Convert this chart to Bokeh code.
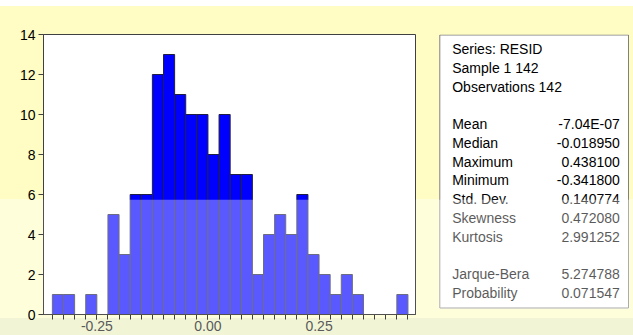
from bokeh.plotting import figure
from bokeh.models import FixedTicker, NumeralTickFormatter, BoxAnnotation, Range1d, Spacer
from bokeh.layouts import row, column
from bokeh.core.properties import value
from bokeh.embed import file_html
from bokeh.resources import INLINE

# ---- data ----
bin_edges = [-0.350, -0.325, -0.300, -0.275, -0.250, -0.225, -0.200, -0.175,
             -0.150, -0.125, -0.100, -0.075, -0.050, -0.025, 0.000, 0.025,
             0.050, 0.075, 0.100, 0.125, 0.150, 0.175, 0.200, 0.225,
             0.250, 0.275, 0.300, 0.325, 0.350, 0.375, 0.400, 0.425, 0.450]
counts = [1, 1, 0, 1, 0, 5, 3, 6, 6, 12, 13, 11, 10, 10, 8, 10,
          7, 7, 2, 4, 5, 4, 6, 3, 2, 1, 2, 1, 0, 0, 0, 1]
x_tick_values = [-0.25, 0.0, 0.25]
y_tick_values = [0, 2, 4, 6, 8, 10, 12, 14]

header_lines = ["Series: RESID", "Sample 1 142", "Observations 142"]
stat_names = ["Mean", "Median", "Maximum", "Minimum", "Std. Dev.", "Skewness", "Kurtosis"]
stat_values = ["-7.04E-07", "-0.018950", "0.438100", "-0.341800", "0.140774", "0.472080", "2.991252"]
test_names = ["Jarque-Bera", "Probability"]
test_values = ["5.274788", "0.071547"]

FONT = "Liberation Sans"
YELLOW = "#FFFDC4"
PALE = "#FFFEDB"
GREENISH = "#F1F5D6"
WASH_ALPHA = 0.35
TOP_PAD, LEFT_PAD = 6, 11          # white page strips above / left of the picture
H = 335 - TOP_PAD
W1 = 430 - LEFT_PAD
W2 = 633 - 430
WASH_Y = 199                       # page y where the light wash starts
FRAME_TOP, FRAME_BOTTOM = 34, 313.5  # page y of the plot frame (shared by both panels)
B_TOP = FRAME_TOP - TOP_PAD
B_BOTTOM = 335 - FRAME_BOTTOM

# ---------------- histogram ----------------
p = figure(width=W1, height=H, x_range=(-0.37, 0.467), y_range=(0, 14),
           output_backend="svg", toolbar_location=None,
           min_border_left=32, min_border_top=B_TOP, min_border_right=15,
           min_border_bottom=int(B_BOTTOM))
p.border_fill_color = None
p.background_fill_color = "white"
p.outline_line_color = "#404040"
p.grid.visible = False

p.quad(left=bin_edges[:-1], right=bin_edges[1:], top=counts, bottom=0,
       fill_color="#0000FF", line_color="#202040", line_width=1)

for ax in (p.xaxis[0], p.yaxis[0]):
    ax.axis_line_color = "#404040"
    ax.major_tick_line_color = "#404040"
    ax.minor_tick_line_color = "#404040"
    ax.major_tick_out = 5
    ax.major_tick_in = 0
    ax.minor_tick_out = 5
    ax.minor_tick_in = 0
    ax.major_label_text_font = FONT
    ax.major_label_text_font_size = "14px"
    ax.major_label_text_color = "black"

p.xaxis.ticker = FixedTicker(ticks=x_tick_values, minor_ticks=bin_edges)
p.xaxis.formatter = NumeralTickFormatter(format="0.00")
p.xaxis.major_label_standoff = 1
p.xaxis.major_label_text_color = "#5a5a5a"
p.yaxis.ticker = FixedTicker(ticks=y_tick_values, minor_ticks=[])
p.yaxis.major_label_standoff = 3

# light wash over the lower part of the plot area (data units: ~20 px per count)
p.add_layout(BoxAnnotation(top=(FRAME_BOTTOM - WASH_Y) * 14 / (FRAME_BOTTOM - FRAME_TOP),
                           fill_color="white", fill_alpha=WASH_ALPHA, line_alpha=0,
                           level="overlay"))

# ---------------- statistics panel (data units = page pixels) ----------------
x0_page = 430
q = figure(width=W2, height=H, x_range=Range1d(x0_page, 633),
           y_range=Range1d(FRAME_BOTTOM, FRAME_TOP),
           output_backend="svg", toolbar_location=None,
           min_border_left=0, min_border_right=0, min_border_top=B_TOP,
           min_border_bottom=int(B_BOTTOM))
q.axis.visible = False
q.grid.visible = False
q.outline_line_color = None
q.background_fill_color = None
q.border_fill_color = None

box_l, box_t, box_r, box_b = 439.3, 34.5, 628, 307
q.quad(left=[box_l], right=[box_r], top=[box_t], bottom=[box_b],
       fill_color="white", line_color="#808080", line_width=1)

rows = [(t, "") for t in header_lines] + [("", "")]
rows += list(zip(stat_names, stat_values)) + [("", "")]
rows += list(zip(test_names, test_values))
first_y, dy = 48.8, 18.7
ys = [first_y + i * dy for i in range(len(rows))]
names = [r[0] for r in rows]
vals = [r[1] for r in rows]

q.text(x=[451.7] * len(rows), y=ys, text=names, text_font=value(FONT),
       text_font_size=value("14px"), text_color="black",
       text_baseline="middle", text_align="left")
q.text(x=[619.3] * len(rows), y=ys, text=vals, text_font=value(FONT),
       text_font_size=value("14px"), text_color="black",
       text_baseline="middle", text_align="right")

# same wash over the lower part of the statistics box
q.quad(left=[box_l - 1], right=[box_r + 1], top=[WASH_Y], bottom=[box_b + 1],
       fill_color="white", fill_alpha=WASH_ALPHA, line_alpha=0)

b1 = WASH_Y - TOP_PAD
b2 = 318 - TOP_PAD
bg = (f"linear-gradient(to bottom, {YELLOW} 0px, {YELLOW} {b1}px, "
      f"{PALE} {b1}px, {PALE} {b2}px, {GREENISH} {b2}px, {GREENISH} 100%)")
panels = row(Spacer(width=LEFT_PAD), p, q, spacing=0, styles={"background": bg})
layout = column(Spacer(height=TOP_PAD), panels, spacing=0)

open("out.html", "w").write(file_html(layout, INLINE))
